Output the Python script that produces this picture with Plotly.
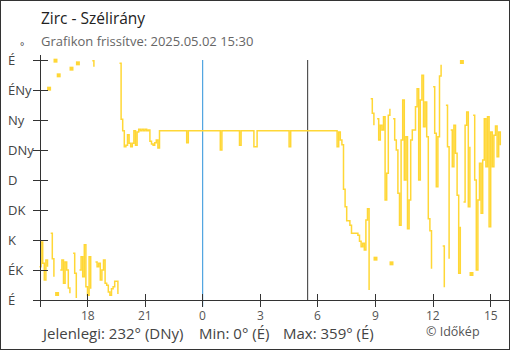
import pandas as pd
import plotly.graph_objects as go

W, H = 510, 350

# ---------------- data ----------------
start_time = "2025-05-01 15:30"
step_min = 5
wind_dir = [
    50, 87, 55, 30, 60, 50, 317, 100, 62, 35, 359, 9,            # 15:30
    337, 45, 60, 25, 57, 45, 18, 10, 347, 70, 40, 3,             # 16:30
    355, 45, 65, 35, 83, 20, 7, 65, 17, 359, 350, 57,            # 17:30
    50, 55, 30, 45, 60, 25, 22, 12, 7, 17, 20, 28,               # 18:30
    28, 9, 355, 271, 254, 230, 232, 248, 235, 230, 235, 254,     # 19:30
    232, 252, 256, 254, 256, 254, 256, 254, 255, 238, 234, 232,  # 20:30
    236, 240, 228, 254, 254, 254, 254, 254, 254, 254, 254, 254,  # 21:30
    254, 254, 254, 254, 254, 254, 254, 254, 236, 254, 254, 254,  # 22:30
    254, 254, 254, 254, 254, 254, 254, 254, 254, 254, 254, 254,  # 23:30
    254, 254, 254, 254, 254, 225, 254, 254, 254, 254, 254, 254,  # 00:30
    254, 254, 254, 254, 254, 232, 254, 254, 254, 254, 254, 254,  # 01:30
    254, 254, 230, 230, 254, 254, 254, 254, 254, 254, 254, 254,  # 02:30
    254, 254, 254, 254, 254, 254, 254, 254, 254, 254, 254, 254,  # 03:30
    230, 254, 254, 254, 254, 254, 254, 254, 254, 254, 254, 254,  # 04:30
    254, 254, 254, 254, 254, 254, 254, 254, 254, 254, 254, 254,  # 05:30
    254, 254, 254, 254, 254, 254, 230, 252, 240, 233, 166, 140,  # 06:30
    119, 119, 112, 100, 100, 100, 100, 97, 88, 80, 85, 75,       # 07:30
    120, 137, 15, 302, 280, 262, 62, 272, 240, 262, 255, 275,    # 08:30
    150, 190, 277, 287, 55, 272, 240, 225, 160, 112, 240, 300,   # 09:30
    180, 245, 107, 150, 240, 255, 255, 290, 317, 180, 300, 337,  # 10:30
    260, 297, 245, 122, 104, 47, 320, 250, 170, 245, 336, 353,   # 11:30
    81, 19, 292, 230, 62, 255, 200, 262, 220, 157, 40, 110,      # 12:30
    357, 147, 262, 282, 140, 230, 39, 277, 180, 45, 150, 205,    # 13:30
    130, 210, 272, 200, 275, 110, 252, 200, 247, 261, 215, 252,  # 14:30
    232,                                                         # 15:30
]
WRAP_JUMP = 180

dir_ticks = [0, 45, 90, 135, 180, 225, 270, 315, 360]
dir_labels = ["É", "ÉK", "K", "DK", "D", "DNy", "Ny", "ÉNy", "É"]

hour_ticks = ["2025-05-01 18:00", "2025-05-01 21:00", "2025-05-02 00:00",
              "2025-05-02 03:00", "2025-05-02 06:00", "2025-05-02 09:00",
              "2025-05-02 12:00", "2025-05-02 15:00"]
hour_labels = ["18", "21", "0", "3", "6", "9", "12", "15"]

midnight = "2025-05-02 00:00"
sunrise = "2025-05-02 05:28"

title = "Zirc - Szélirány"
subtitle = "Grafikon frissítve: 2025.05.02 15:30"
footer_parts = ["Jelenlegi: 232° (DNy)", "Min: 0° (É)", "Max: 359° (É)"]
credit = "© Időkép"

# ---------------- layout geometry ----------------
LINE_COL = "#FFD736"
AXIS_COL = "#333333"
x_origin_px = 39.5          # pixel of first sample
px_per_hour = 19.2
y0_px, y360_px = 300, 60     # pixel of 0° and 360°
plot_left, plot_right = 34, 509
plot_top, plot_bottom = 55, 307

t0 = pd.Timestamp(start_time)
def t_at(px):
    return t0 + pd.Timedelta(hours=(px - x_origin_px) / px_per_hour)
deg_per_px = 360 / (y0_px - y360_px)
y_range = [-(plot_bottom - y0_px) * deg_per_px, 360 + (y360_px - plot_top) * deg_per_px]
x_range = [t_at(plot_left), t_at(plot_right)]

def fx(px): return px / W
def fy(px): return 1 - px / H

times = pd.date_range(start_time, periods=len(wind_dir), freq=f"{step_min}min")

# break the line where the direction wraps around
segments, cur = [], []
for t, v in zip(times, wind_dir):
    if cur and abs(v - cur[-1][1]) > WRAP_JUMP:
        segments.append(cur)
        cur = []
    cur.append((t, v))
segments.append(cur)

line_x, line_y, iso_x, iso_y = [], [], [], []
for seg in segments:
    if len(seg) == 1:
        iso_x.append(seg[0][0]); iso_y.append(seg[0][1])
    else:
        for t, v in seg:
            line_x.append(t); line_y.append(v)
        line_x.append(seg[-1][0]); line_y.append(None)

fig = go.Figure()
fig.add_trace(go.Scatter(x=line_x, y=line_y, mode="lines", line=dict(color=LINE_COL, width=1.5, shape="hv"),
                         connectgaps=False, hoverinfo="skip", showlegend=False))
fig.add_trace(go.Scatter(x=iso_x, y=iso_y, mode="markers",
                         marker=dict(symbol="square", size=4, color=LINE_COL, line=dict(width=0)),
                         hoverinfo="skip", showlegend=False))
# carrier for the inner-tick overlay axes
fig.add_trace(go.Scatter(x=[times[0]], y=[None], xaxis="x2", yaxis="y2", mode="markers",
                         hoverinfo="skip", showlegend=False))

xdom = [fx(plot_left), fx(plot_right)]
ydom = [fy(plot_bottom), fy(plot_top)]

fig.update_layout(
    width=W, height=H, autosize=False,
    margin=dict(l=0, r=0, t=0, b=0),
    paper_bgcolor="white", plot_bgcolor="white",
    font=dict(family="Open Sans", color="#444"),
    hovermode=False,
    xaxis=dict(type="date", domain=xdom, range=x_range, anchor="free", position=fy(y0_px),
               showline=True, linecolor=AXIS_COL, linewidth=1,
               ticks="outside", ticklen=6, tickwidth=1, tickcolor=AXIS_COL,
               tickvals=hour_ticks, showticklabels=False,
               showgrid=False, zeroline=False, fixedrange=True),
    yaxis=dict(domain=ydom, range=y_range, anchor="free", position=fx(40),
               showline=True, linecolor=AXIS_COL, linewidth=1,
               ticks="outside", ticklen=7, tickwidth=1, tickcolor=AXIS_COL,
               tickvals=dir_ticks, showticklabels=False,
               showgrid=False, zeroline=False, fixedrange=True),
    xaxis2=dict(type="date", overlaying="x", domain=xdom, range=x_range, anchor="free",
                position=fy(y0_px), showline=False, ticks="inside", ticklen=6, tickwidth=1,
                tickcolor=AXIS_COL, tickvals=hour_ticks, showticklabels=False,
                showgrid=False, zeroline=False),
    yaxis2=dict(overlaying="y", domain=ydom, range=y_range, anchor="free", position=fx(40),
                showline=False, ticks="inside", ticklen=7, tickwidth=1, tickcolor=AXIS_COL,
                tickvals=dir_ticks, showticklabels=False, showgrid=False, zeroline=False),
)

# vertical markers: midnight (blue) and sunrise (dark)
fig.add_shape(type="line", xref="x", yref="y", x0=midnight, x1=midnight, y0=y_range[0] + 0.5, y1=360,
              line=dict(color="#2C92DA", width=1), layer="below")
fig.add_shape(type="line", xref="x", yref="y", x0=sunrise, x1=sunrise, y0=0, y1=360,
              line=dict(color=AXIS_COL, width=1), layer="below")
# frame
fig.add_shape(type="rect", xref="paper", yref="paper", x0=0, x1=1, y0=0, y1=1,
              line=dict(color=AXIS_COL, width=2), layer="above")

# hour labels under the time axis
for tv, lab in zip(hour_ticks, hour_labels):
    fig.add_annotation(x=tv, y=fy(315), xref="x", yref="paper", text=lab, showarrow=False,
                       xanchor="center", yanchor="middle", font=dict(size=12, color="#555"))

# direction labels (left aligned)
for v, lab in zip(dir_ticks, dir_labels):
    fig.add_annotation(x=fx(6), y=v, xref="paper", yref="y", text=lab, showarrow=False,
                       xanchor="left", yanchor="middle", font=dict(size=13, color="#444"))
fig.add_annotation(x=fx(18), y=fy(46), xref="paper", yref="paper", text="°", showarrow=False,
                   xanchor="left", yanchor="middle", font=dict(size=10, color="#444"))

# titles
fig.add_annotation(x=fx(39), y=fy(18), xref="paper", yref="paper", text=title, showarrow=False,
                   xanchor="left", yanchor="middle", font=dict(size=15.5, color="#222"))
fig.add_annotation(x=fx(39), y=fy(41), xref="paper", yref="paper", text=subtitle, showarrow=False,
                   xanchor="left", yanchor="middle", font=dict(size=13, color="#666"))

# footer
footer_x = [39, 197, 281]
for xp, txt in zip(footer_x, footer_parts):
    fig.add_annotation(x=fx(xp), y=fy(333), xref="paper", yref="paper", text=txt, showarrow=False,
                       xanchor="left", yanchor="middle", font=dict(size=15, color="#444"))
fig.add_annotation(x=fx(424), y=fy(331), xref="paper", yref="paper", text=credit, showarrow=False,
                   xanchor="left", yanchor="middle", font=dict(size=12.5, color="#555"))

fig.write_html("out.html")
